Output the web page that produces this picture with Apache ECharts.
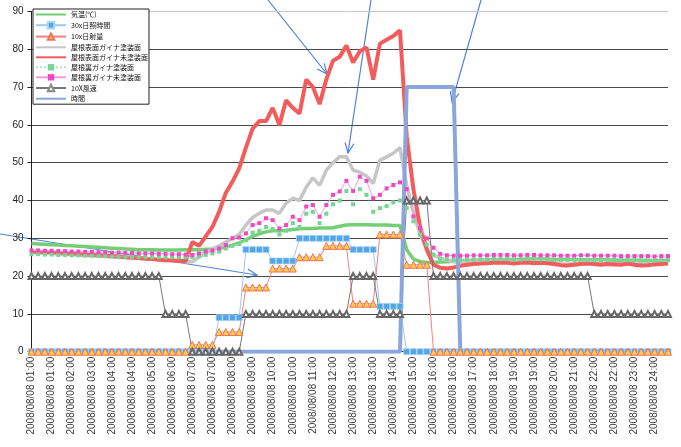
<!DOCTYPE html>
<html><head><meta charset="utf-8">
<script src="https://cdn.jsdelivr.net/npm/echarts@6/dist/echarts.min.js"></script>
<style>html,body{margin:0;padding:0;background:#fff}#c{width:681px;height:447px}</style>
</head><body><div id="c"></div>
<script>
const times = [
"01:00","01:15","01:30","01:45","02:00","02:15","02:30","02:45","03:00","03:15","03:30","03:45",
"04:00","04:15","04:30","04:45","05:00","05:15","05:30","05:45","06:00","06:15","06:30","06:45",
"07:00","07:15","07:30","07:45","08:00","08:15","08:30","08:45","09:00","09:15","09:30","09:45",
"10:00","10:15","10:30","10:45","11:00","11:15","11:30","11:45","12:00","12:15","12:30","12:45",
"13:00","13:15","13:30","13:45","14:00","14:15","14:30","14:45","15:00","15:15","15:30","15:45",
"16:00","16:15","16:30","16:45","17:00","17:15","17:30","17:45","18:00","18:15","18:30","18:45",
"19:00","19:15","19:30","19:45","20:00","20:15","20:30","20:45","21:00","21:15","21:30","21:45",
"22:00","22:15","22:30","22:45","23:00","23:15","23:30","23:45","24:00","24:15","24:30","24:45"];

const names = ["気温(℃)","30x日照時間","10x日射量","屋根表面ガイナ塗装面","屋根表面ガイナ未塗装面","屋根裏ガイナ塗装面","屋根裏ガイナ未塗装面","10X風速","時間"];

const airTemp = [28.6,28.5,28.4,28.3,28.2,28.1,28.0,27.9,27.8,27.7,27.6,27.5,27.4,27.3,27.2,27.1,
27.0,27.0,27.0,26.9,26.9,26.9,26.9,27.0,27.0,27.0,27.1,
27.2,27.4,27.7,28.2,28.8,29.6,30.5,31.2,31.7,32.0,32.0,32.1,32.3,
32.5,32.6,32.6,32.7,32.7,32.8,33.2,33.5,33.6,33.6,33.6,33.5,33.5,33.5,33.4,33.4,
27.0,24.5,23.8,23.6,23.6,23.7,23.8,23.9,24.0,24.1,24.2,24.2,24.3,24.3,24.3,24.4,24.4,24.4,24.5,24.5,
24.5,24.5,24.4,24.4,24.4,24.4,24.3,24.3,24.3,24.3,24.3,24.2,24.2,24.2,24.2,24.2,24.1,24.1,24.1,24.1];

const sunshine30x = [0,0,0,0,0,0,0,0,0,0,0,0,0,0,0,0,0,0,0,0,0,0,0,0,0,0,0,0,
9,9,9,9,27,27,27,27,24,24,24,24,30,30,30,30,30,30,30,30,27,27,27,27,12,12,12,12,
0,0,0,0,0,0,0,0,0,0,0,0,0,0,0,0,0,0,0,0,0,0,0,0,0,0,0,0,0,0,0,0,0,0,0,0,0,0,0,0];

const radiation10x = [0,0,0,0,0,0,0,0,0,0,0,0,0,0,0,0,0,0,0,0,0,0,0,0,
1.8,1.8,1.8,1.8,5.2,5.2,5.2,5.2,17,17,17,17,22,22,22,22,25,25,25,25,28,28,28,28,
12.7,12.7,12.7,12.7,31,31,31,31,23,23,23,23,
0,0,0,0,0,0,0,0,0,0,0,0,0,0,0,0,0,0,0,0,0,0,0,0,0,0,0,0,0,0,0,0,0,0,0,0];

const roofTopCoated = [26.3,26.2,26.1,26.0,25.9,25.8,25.7,25.6,25.5,25.4,25.3,25.2,25.1,25.0,24.9,24.8,
24.7,24.6,24.5,24.4,24.3,24.2,24.0,23.8,
23.8,25,26,27.2,28,29,30,31,33.5,35.5,36.6,37.5,37.5,36.6,39.3,40.6,40,43.5,46,44,48,50,51.6,51.6,
48,47.5,46.5,44.5,50.7,51.5,52.5,54,
44,37,31,27,25.5,24.8,24.2,23.8,23.6,23.6,23.7,23.7,23.8,23.8,23.9,23.8,23.7,23.8,23.8,23.7,
23.7,23.6,23.5,23.3,23.2,23.3,23.4,23.5,23.4,23.3,23.4,23.3,23.3,23.5,23.3,23.2,23.2,23.3,23.4,23.5];

const roofTopUncoated = [26.5,26.4,26.3,26.2,26.1,26.0,25.9,25.8,25.7,25.6,25.5,25.4,25.3,25.2,25.0,24.9,
24.8,24.6,24.5,24.3,24.2,24.1,24.0,24.0,
29,28,30.5,33,37,42,45,48.5,54,59,61,61,64.5,60,66.5,64.5,63,72,70,65.5,72,77,78,81,
76.5,79.5,80.5,72,81.5,82.5,83.5,85,
57,43,33,27,23,22.2,22,22.3,22.7,23,23.2,23.3,23.4,23.5,23.6,23.5,23.3,23.5,23.6,23.4,
23.5,23.4,23.2,22.9,22.8,23.0,23.2,23.3,23.2,23.0,23.2,23.1,23.0,23.3,23.0,22.8,22.9,23.1,23.2,23.3];

const roofBackCoated = [25.8,25.8,25.7,25.7,25.6,25.6,25.5,25.5,25.4,25.4,25.3,25.3,25.2,25.2,25.1,25.1,
25.1,25.0,25.0,25.0,25.0,25.0,25.0,25.0,
25.0,25.3,25.6,26.0,26.5,27.3,28.0,28.5,29.5,31.5,32.0,33.0,32.5,31.0,32.0,34.0,33.0,36.5,37.0,34.0,36.5,39.0,40.0,42.5,
39.0,43.0,41.5,37.0,38.0,38.5,39.5,40.0,
38.0,34.5,31.0,28.3,25.7,24.6,24.4,24.3,24.3,24.3,24.4,24.4,24.4,24.5,24.5,24.5,24.4,24.4,24.5,24.5,
24.4,24.4,24.3,24.3,24.3,24.3,24.3,24.2,24.2,24.2,24.3,24.3,24.2,24.2,24.2,24.1,24.1,24.1,24.2,24.2];

const roofBackUncoated = [26.8,26.8,26.7,26.7,26.6,26.6,26.5,26.5,26.4,26.4,26.3,26.3,26.2,26.2,26.1,26.1,
26.0,26.0,26.0,25.9,25.9,25.8,25.8,25.7,
25.6,26.0,26.5,26.8,27.3,28.2,30.0,30.2,31.3,33.5,34.0,35.3,34.8,32.6,33.5,35.7,34.8,38.4,38.8,35.7,38.8,41.5,42.4,45.2,
42.5,46.3,45.2,40.6,41.5,43.2,44.1,44.8,
43.0,35.8,32.7,30.0,27.5,25.9,25.5,25.4,25.4,25.4,25.5,25.5,25.5,25.6,25.6,25.6,25.5,25.5,25.6,25.6,
25.5,25.5,25.5,25.4,25.4,25.4,25.5,25.5,25.4,25.4,25.4,25.4,25.3,25.3,25.3,25.3,25.3,25.2,25.3,25.3];

const wind10x = [20,20,20,20,20,20,20,20,20,20,20,20,20,20,20,20,20,20,20,20,
10,10,10,10,0,0,0,0,0,0,0,0,
10,10,10,10,10,10,10,10,10,10,10,10,10,10,10,10,20,20,20,20,10,10,10,10,40,40,40,40,
20,20,20,20,20,20,20,20,20,20,20,20,20,20,20,20,20,20,20,20,20,20,20,20,
10,10,10,10,10,10,10,10,10,10,10,10];

const jikan = [0,0,0,0,0,0,0,0,0,0,0,0,0,0,0,0,0,0,0,0,0,0,0,0,0,0,0,0,0,0,0,0,0,0,0,0,0,0,0,0,
0,0,0,0,0,0,0,0,0,0,0,0,0,0,0,0,70,70,70,70,70,70,70,70,
0,0,0,0,0,0,0,0,0,0,0,0,0,0,0,0,0,0,0,0,0,0,0,0,0,0,0,0,0,0,0,0];

const yTicks = [0,10,20,30,40,50,60,70,80,90];

const chart = echarts.init(document.getElementById('c'), null, {renderer:'canvas'});

function ln(name, data, color, width, extra) {
  return Object.assign({
    name: name, type: 'line', data: data, animation: false, showAllSymbol: true,
    symbol: 'none', lineStyle: {color: color, width: width}, itemStyle: {color: color},
    emphasis: {disabled: true}
  }, extra || {});
}

function arrow(x1, y1, x2, y2) {
  const a = Math.atan2(y2 - y1, x2 - x1), L = 11, s = 0.42;
  const color = '#4f84d6';
  return {
    type: 'group', z: 100, children: [
      {type: 'line', shape: {x1: x1, y1: y1, x2: x2, y2: y2}, style: {stroke: color, lineWidth: 1.2}},
      {type: 'polyline', shape: {points: [
        [x2 - L * Math.cos(a - s), y2 - L * Math.sin(a - s)], [x2, y2],
        [x2 - L * Math.cos(a + s), y2 - L * Math.sin(a + s)]]},
        style: {stroke: color, lineWidth: 1.2, fill: null}}
    ]
  };
}

const gridColors = yTicks.map(v => v === 90 ? '#c8c8c8' : '#4a4a4a');
const noMarker = {color: 'rgba(0,0,0,0)', borderColor: 'rgba(0,0,0,0)', borderWidth: 0};
const legendData = names.map((n, i) => {
  if (i === 0 || i === 3 || i === 4 || i === 8) return {name: n, itemStyle: noMarker};
  if (i === 7) return {name: n, itemStyle: {color: '#8a8a8a'}};
  return {name: n};
});

chart.setOption({
  backgroundColor: '#fff',
  textStyle: {fontFamily: 'Liberation Sans, Arial, sans-serif'},
  grid: {left: 31.5, right: 13, top: 11.5, bottom: 95.3, outerBoundsMode: 'none', containLabel: false},
  legend: {
    orient: 'vertical', left: 33, top: 9, padding: [2, 1, 2, 2],
    itemWidth: 30, itemHeight: 8, itemGap: 3,
    backgroundColor: '#fff', borderColor: '#222', borderWidth: 1,
    textStyle: {fontSize: 7, color: '#111', fontFamily: 'Noto Sans CJK JP'},
    data: legendData
  },
  xAxis: {
    type: 'category', data: times, boundaryGap: false,
    axisLine: {lineStyle: {color: '#222', width: 1}},
    axisTick: {show: false},
    axisLabel: {interval: 2, rotate: 90, fontSize: 10, color: '#3a3a3a', margin: 5,
      formatter: v => '2008/08/08 ' + v.slice(0, 2) + ':00'},
    splitLine: {show: false}
  },
  yAxis: {
    type: 'value', min: yTicks[0], max: yTicks[yTicks.length - 1], interval: 10,
    axisLine: {show: true, lineStyle: {color: '#222'}},
    axisTick: {show: true, length: 4, lineStyle: {color: '#222'}},
    axisLabel: {fontSize: 10, color: '#222', margin: 8},
    splitLine: {lineStyle: {color: gridColors, width: 1}}
  },
  series: [
    ln(names[0], airTemp, '#74cf74', 3.5),
    ln(names[1], sunshine30x, '#5aaae8', 1, {symbol: 'rect', symbolSize: 6,
      lineStyle: {color: '#9ccaf0', width: 1}, itemStyle: {color: '#52a6e6', borderColor: '#a8d4f6', borderWidth: 0.8}}),
    ln(names[2], radiation10x, '#f28282', 1, {symbol: 'triangle', symbolSize: 7,
      lineStyle: {color: '#f28282', width: 1}, itemStyle: {color: '#ffcf45', borderColor: '#f07060', borderWidth: 1}}),
    ln(names[3], roofTopCoated, '#c6c6c6', 3.5),
    ln(names[4], roofTopUncoated, '#f45c5c', 4),
    ln(names[5], roofBackCoated, '#7fd699', 1, {symbol: 'rect', symbolSize: 4,
      lineStyle: {color: '#b2e6c2', width: 1, type: 'dotted'}, itemStyle: {color: '#78d494'}}),
    ln(names[6], roofBackUncoated, '#ee48c2', 1, {symbol: 'rect', symbolSize: 4,
      lineStyle: {color: '#f59ada', width: 1}, itemStyle: {color: '#ee48c2'}}),
    ln(names[7], wind10x, '#666', 1, {symbol: 'emptyTriangle', symbolSize: 6,
      lineStyle: {color: '#777', width: 1}, itemStyle: {color: '#666', borderWidth: 0.7}}),
    ln(names[8], jikan, '#8aa6dc', 4)
  ],
  graphic: [
    arrow(268, 0, 327, 74),
    arrow(371, 0, 348, 153),
    arrow(481, 0, 452, 102),
    arrow(0, 234, 257, 275)
  ]
});
</script>
</body></html>
